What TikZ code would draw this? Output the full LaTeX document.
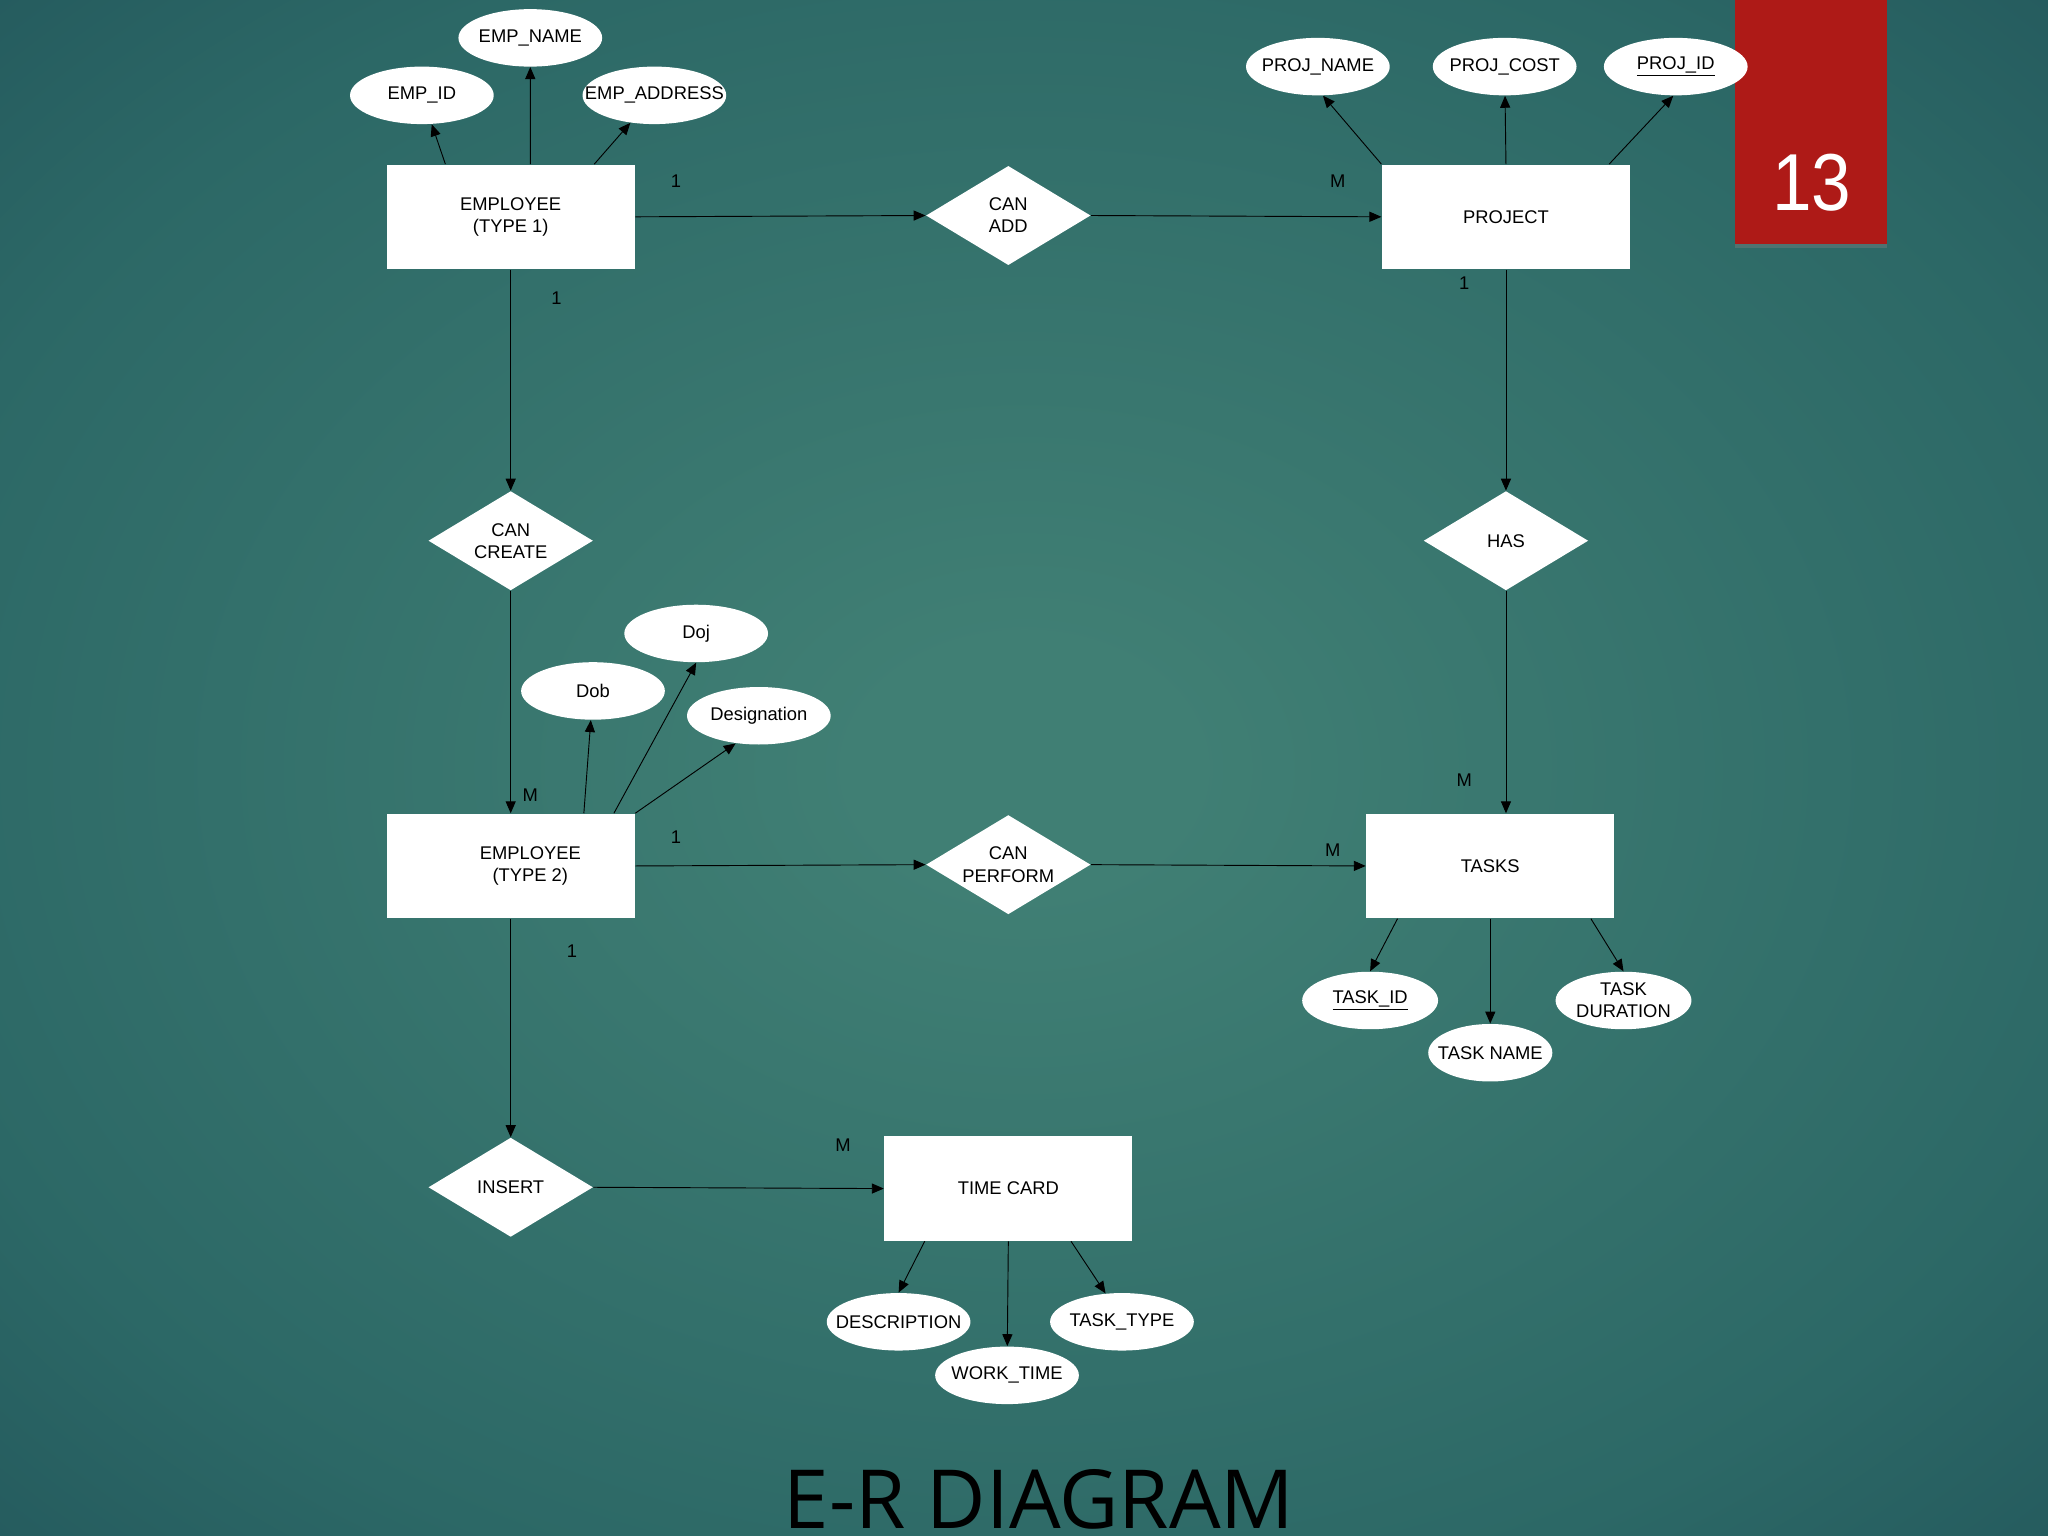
\documentclass[tikz,border=0pt]{standalone}
\usepackage{fontspec}
\setmainfont{Liberation Sans}
\newfontfamily\titlefont{Open Sans}
\usetikzlibrary{arrows.meta,shapes.geometric,shadows}

\definecolor{bgin}{RGB}{64,127,116}
\definecolor{bgmid}{RGB}{44,104,102}
\definecolor{bgout}{RGB}{24,68,80}
\definecolor{tabred}{RGB}{174,26,23}
\pgfdeclareradialshading{bgshade}{\pgfpointorigin}{color(0bp)=(bgin); color(4bp)=(bgin); color(28bp)=(bgmid); color(50bp)=(bgout)}

\tikzset{
  entity/.style={rectangle, fill=white, minimum width=4.75cm, minimum height=2cm, align=center},
  rel/.style={diamond, fill=white, aspect=1.66, inner sep=0pt, minimum width=3.15cm, minimum height=1.9cm, align=center},
  attr/.style={ellipse, fill=white, inner xsep=-1cm, inner ysep=-0.5cm, minimum width=2.75cm, minimum height=1.1cm, align=center},
  card/.style={inner sep=0pt}
}

\begin{document}
\begin{tikzpicture}[x=0.025cm, y=-0.025cm, >={Triangle[length=6.5pt,width=5.5pt]}, line width=0.5pt, font=\fontsize{10}{12}\selectfont]

    \shade[shading=bgshade] (0,0) rectangle (1568,1176);
    \useasboundingbox (0,0) rectangle (1568,1176);

    % slide number tab
    \fill[tabred, drop shadow={opacity=0.4, shadow xshift=0pt, shadow yshift=-2pt}] (1328,0) rectangle (1445,187);
    \node[text=white, xscale=0.88, transform shape, font=\fontsize{44}{44}\selectfont] (pgno) at (1387,140) {13};

    \node[entity]   (emp1)       at (391,166)   {EMPLOYEE\\(TYPE 1)};
    \node[rel]      (canadd)     at (772,165)   {CAN\\ADD};
    \node[entity]   (proj)       at (1153,166)  {PROJECT};
    \node[rel]      (cancreate)  at (391,414)   {CAN\\CREATE};
    \node[rel]      (has)        at (1153,414)  {HAS};
    \node[entity]   (emp2)       at (391,663)   {\hspace*{0.75cm}EMPLOYEE\\\hspace*{0.75cm}(TYPE 2)};
    \node[rel]      (canperform) at (772,662)   {CAN\\PERFORM};
    \node[entity]   (tasks)      at (1141,663)  {TASKS};
    \node[rel]      (insert)     at (391,909)   {INSERT};
    \node[entity]   (timecard)   at (772,910)   {TIME CARD};

    \node[attr]     (empname)    at (406,29)    {EMP\_NAME};
    \node[attr]     (empid)      at (323,73)    {EMP\_ID};
    \node[attr]     (empaddr)    at (501,73)    {EMP\_ADDRESS};
    \node[attr]     (projname)   at (1009,51)   {PROJ\_NAME};
    \node[attr]     (projcost)   at (1152,51)   {PROJ\_COST};
    \node[attr]     (projid)     at (1283,51)   {\underline{PROJ\_ID}};
    \node[attr]     (doj)        at (533,485)   {Doj};
    \node[attr]     (dob)        at (454,529)   {Dob};
    \node[attr]     (desig)      at (581,548)   {Designation};
    \node[attr, minimum width=2.6cm]   (taskid)   at (1049,766) {\underline{TASK\_ID}};
    \node[attr, minimum width=2.375cm] (taskname) at (1141,806) {TASK NAME};
    \node[attr, minimum width=2.6cm]   (taskdur)  at (1243,766) {TASK\\DURATION};
    \node[attr]     (desc)       at (688,1012)  {DESCRIPTION};
    \node[attr]     (worktime)   at (771,1053)  {WORK\_TIME};
    \node[attr]     (tasktype)   at (859,1012)  {TASK\_TYPE};

    \node[font=\titlefont\fontsize{44.4}{44}\selectfont, anchor=base] (title) at (795.5,1170) {E-R DIAGRAM};

    \path[->]   (emp1.east)       edge  node[card, pos=0.14, yshift=0.675cm]  (c1)  {1}  (canadd.west)
                (canadd.east)     edge  node[card, pos=0.85, yshift=0.675cm]  (c2)  {M}  (proj.west)
                (emp1.south)      edge  node[card, pos=0.13, xshift=0.875cm]  (c3)  {1}  (cancreate.north)
                (cancreate.south) edge  node[card, pos=0.92, xshift=0.375cm]  (c4)  {M}  (emp2.north)
                (proj.south)      edge  node[card, pos=0.06, xshift=-0.8cm]   (c5)  {1}  (has.north)
                (has.south)       edge  node[card, pos=0.85, xshift=-0.8cm]   (c6)  {M}  (has.south |- tasks.north)
                (emp2.east)       edge  node[card, pos=0.14, yshift=0.55cm]   (c7)  {1}  (canperform.west)
                (canperform.east) edge  node[card, pos=0.88, yshift=0.3cm]    (c8)  {M}  (tasks.west)
                (emp2.south)      edge  node[card, pos=0.15, xshift=1.175cm]  (c9)  {1}  (insert.north)
                (insert.east)     edge  node[card, pos=0.86, yshift=0.825cm]  (c10) {M}  (timecard.west);

    \path[->]   ([xshift=-1.25cm]emp1.north)   edge  (empid)
                ([xshift=0.375cm]emp1.north)   edge  (empname)
                ([xshift=1.6cm]emp1.north)     edge  (empaddr)
                (proj.north west)              edge  (projname.280)
                (proj.north)                   edge  (projcost)
                ([xshift=1.975cm]proj.north)   edge  (projid.265)
                ([xshift=1.4cm]emp2.north)     edge  (dob)
                ([xshift=1.975cm]emp2.north)   edge  (doj.south)
                (emp2.north east)              edge  (desig.230)
                ([xshift=-1.775cm]tasks.south) edge  (taskid.north)
                (tasks.south)                  edge  (taskname)
                ([xshift=1.925cm]tasks.south)  edge  (taskdur.north)
                ([xshift=-1.6cm]timecard.south) edge (desc.north)
                (timecard.south)               edge  (worktime)
                ([xshift=1.2cm]timecard.south) edge  (tasktype.120);
\end{tikzpicture}
\end{document}
